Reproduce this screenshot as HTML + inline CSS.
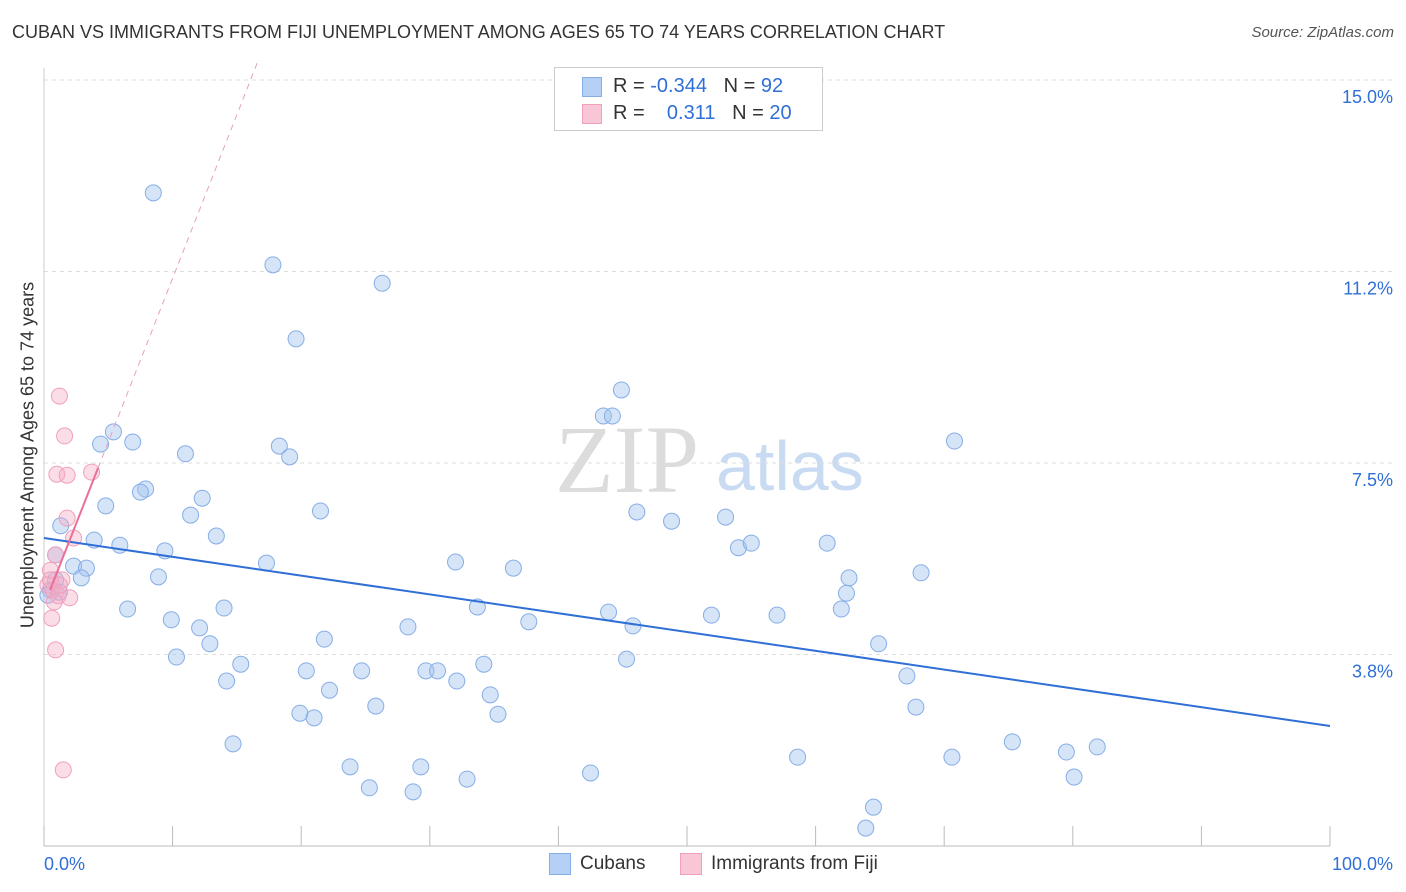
<!DOCTYPE html>
<html><head><meta charset="utf-8"><style>
body{margin:0;background:#fff;font-family:"Liberation Sans",sans-serif;}
#wrap{position:relative;width:1406px;height:892px;overflow:hidden;}
.t{position:absolute;white-space:nowrap;}
</style></head><body>
<div id="wrap">
<div class="t" style="left:12px;top:22px;font-size:18px;color:#333;">CUBAN VS IMMIGRANTS FROM FIJI UNEMPLOYMENT AMONG AGES 65 TO 74 YEARS CORRELATION CHART</div>
<div class="t" style="right:12px;top:24px;font-size:15px;color:#555;font-style:italic;">Source: ZipAtlas.com</div>
<svg id="chart" width="1406" height="892" style="position:absolute;left:0;top:0">
<text x="555" y="492" font-family="Liberation Serif,serif" font-size="96" fill="#dcdcdc">ZIP</text>
<text x="716" y="490" font-family="Liberation Sans,sans-serif" font-size="70" fill="#c9dbf2">atlas</text>
</svg>
<div class="t" style="left:18px;top:455px;transform:translate(-50%,-50%) rotate(-90deg);transform-origin:center;font-size:18px;color:#333;left:28px;">Unemployment Among Ages 65 to 74 years</div>
<div style="position:absolute;left:554px;top:67px;width:267px;height:62px;border:1px solid #ccc;background:#fff;">
<div style="position:absolute;left:27px;top:9px;width:18px;height:18px;background:#b5d0f5;border:1px solid #86aee6;"></div>
<div class="t" style="left:58px;top:7px;font-size:20px;color:#333;">R = <span style="color:#2f6fd6">-0.344</span>&nbsp;&nbsp;&nbsp;N = <span style="color:#2f6fd6">92</span></div>
<div style="position:absolute;left:27px;top:36px;width:18px;height:18px;background:#f9c6d6;border:1px solid #f0a0bb;"></div>
<div class="t" style="left:58px;top:34px;font-size:20px;color:#333;">R = &nbsp;&nbsp;&nbsp;<span style="color:#2f6fd6">0.311</span>&nbsp;&nbsp;&nbsp;N = <span style="color:#2f6fd6">20</span></div>
</div>
<div style="position:absolute;left:549px;top:853px;width:20px;height:20px;background:#b5d0f5;border:1px solid #86aee6;"></div>
<div class="t" style="left:580px;top:853px;font-size:19px;color:#333;">Cubans</div>
<div style="position:absolute;left:680px;top:853px;width:20px;height:20px;background:#f9c6d6;border:1px solid #f0a0bb;"></div>
<div class="t" style="left:711px;top:853px;font-size:19px;color:#333;">Immigrants from Fiji</div>
</div>
<script>
const yTicks=[15.0,11.25,7.5,3.75];
const yTickLabels=["15.0%","11.2%","7.5%","3.8%"];
const xTickLabels=["0.0%","100.0%"];
const cubanX=[8.5,17.8,26.3,19.6,44.9,43.5,44.2,70.8,4.4,5.4,6.9,11.0,18.3,19.1,7.9,7.5,12.3,4.8,11.4,21.5,46.1,48.8,53.0,13.4,3.9,5.9,9.4,1.3,0.9,54.0,55.0,60.9,17.3,32.0,36.5,2.3,3.3,2.9,8.9,62.6,68.2,62.4,6.5,14.0,33.7,43.9,51.9,57.0,62.0,9.9,12.1,37.7,45.8,28.3,21.8,12.9,10.3,64.9,45.3,15.3,34.2,20.4,24.7,29.7,30.6,14.2,32.1,22.2,34.7,67.1,25.8,19.9,21.0,35.3,67.8,14.7,75.3,81.9,79.5,58.6,70.6,23.8,29.3,42.5,80.1,32.9,25.3,28.7,64.5,63.9,0.5,0.9,0.3,1.2];
const cubanY=[12.79,11.38,11.02,9.93,8.93,8.42,8.42,7.93,7.87,8.11,7.91,7.68,7.83,7.62,6.99,6.93,6.81,6.66,6.48,6.56,6.54,6.36,6.44,6.07,5.99,5.89,5.78,6.27,5.70,5.84,5.93,5.93,5.54,5.56,5.44,5.48,5.44,5.25,5.27,5.25,5.35,4.95,4.64,4.66,4.68,4.58,4.52,4.52,4.64,4.43,4.27,4.39,4.31,4.29,4.05,3.96,3.70,3.96,3.66,3.56,3.56,3.43,3.43,3.43,3.43,3.23,3.23,3.05,2.96,3.33,2.74,2.60,2.51,2.58,2.72,2.00,2.04,1.94,1.84,1.74,1.74,1.55,1.55,1.43,1.35,1.31,1.14,1.06,0.76,0.35,5.01,5.21,4.91,4.97];
const fijiX=[1.2,1.6,1.0,1.8,3.7,1.8,2.3,0.9,0.5,1.4,0.3,0.7,1.1,2.0,0.8,0.6,0.9,1.5,0.5,1.2];
const fijiY=[8.81,8.03,7.28,7.26,7.32,6.42,6.03,5.70,5.40,5.21,5.11,5.01,4.90,4.86,4.78,4.46,3.84,1.49,5.21,5.11];
const cubanTrendX=[0,100];
const cubanTrendY=[6.03,2.35];
const fijiTrendX=[0.47,4.2];
const fijiTrendY=[5.01,7.40];
const fijiDashEndY=15.4;

const NS="http://www.w3.org/2000/svg";
const svg=document.getElementById('chart');
const X0=44,X1=1330,YB=846,PXPER=51.07;
function sx(v){return X0+(X1-X0)*v/100;}
function sy(v){return YB-v*PXPER;}
function mk(tag,attrs){const e=document.createElementNS(NS,tag);for(const k in attrs)e.setAttribute(k,attrs[k]);svg.appendChild(e);return e;}
// gridlines & y labels
yTicks.forEach((t,i)=>{
  const g=mk('line',{x1:X0,x2:1395,y1:sy(t),y2:sy(t),stroke:'#ddd','stroke-dasharray':'4,4'});
  
  
  const l=mk('text',{x:1393,y:sy(t)+23,'text-anchor':'end','font-size':18,fill:'#2f6fd6','font-family':'Liberation Sans,sans-serif'});
  l.textContent=yTickLabels[i];
  
  
});
// axes
const ax=mk('line',{x1:X0,x2:X1,y1:YB,y2:YB,stroke:'#bbb'});


const ay=mk('line',{x1:X0,x2:X0,y1:68,y2:YB,stroke:'#ccc'});


for(let i=0;i<=10;i++){
  const tk=mk('line',{x1:sx(i*10),x2:sx(i*10),y1:826,y2:YB,stroke:'#bbb'});
  
  
}
[[0,'start',44],[100,'end',1393]].forEach((d,i)=>{
  const l=mk('text',{x:d[2],y:870,'text-anchor':d[1],'font-size':18,fill:'#2f6fd6','font-family':'Liberation Sans,sans-serif'});
  l.textContent=xTickLabels[i];
  
  
});
// points
cubanX.forEach((x,i)=>{
  const c=mk('circle',{cx:sx(x),cy:sy(cubanY[i]),r:8,fill:'rgba(163,196,240,0.45)',stroke:'#86aee6','stroke-width':1});
  
  
});
fijiX.forEach((x,i)=>{
  const c=mk('circle',{cx:sx(x),cy:sy(fijiY[i]),r:8,fill:'rgba(245,170,195,0.4)',stroke:'#f0a0bb','stroke-width':1});
  
  
});
// trends
const bt=mk('line',{x1:sx(cubanTrendX[0]),y1:sy(cubanTrendY[0]),x2:sx(cubanTrendX[1]),y2:sy(cubanTrendY[1]),stroke:'#2f6fd6','stroke-width':2});


const slope=(fijiTrendY[1]-fijiTrendY[0])/(fijiTrendX[1]-fijiTrendX[0]);
const endX=fijiTrendX[1]+(fijiDashEndY-fijiTrendY[1])/slope;
const pd=mk('line',{x1:sx(fijiTrendX[1]),y1:sy(fijiTrendY[1]),x2:sx(endX),y2:sy(fijiDashEndY),stroke:'#e8a0b8','stroke-width':1,'stroke-dasharray':'6,5'});


const pt=mk('line',{x1:sx(fijiTrendX[0]),y1:sy(fijiTrendY[0]),x2:sx(fijiTrendX[1]),y2:sy(fijiTrendY[1]),stroke:'#e8709a','stroke-width':2});


</script>
</body></html>
